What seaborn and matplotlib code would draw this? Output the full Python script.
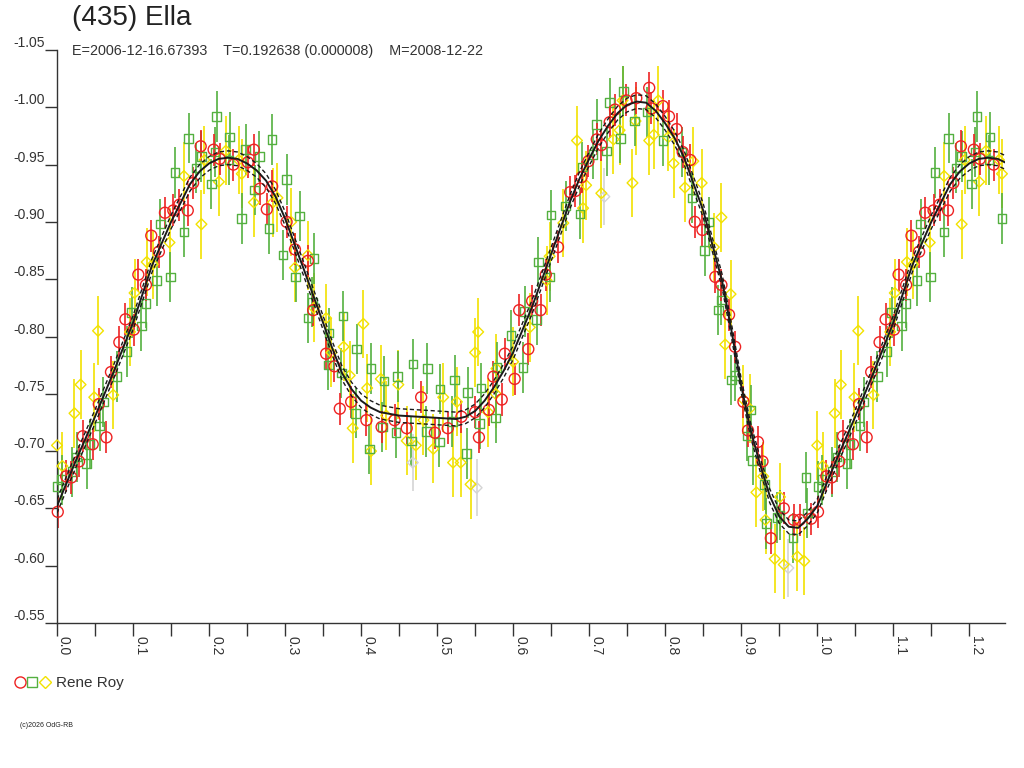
import numpy as np
import pandas as pd
import matplotlib
matplotlib.use("Agg")
import matplotlib.pyplot as plt
from matplotlib.ticker import MultipleLocator
from matplotlib.lines import Line2D
from matplotlib.legend_handler import HandlerTuple
import seaborn as sns

# (435) Ella, composite lightcurve, observer Rene Roy
title = "(435) Ella"
subtitle = "E=2006-12-16.67393    T=0.192638 (0.000008)    M=2008-12-22"
observer = "Rene Roy"
credit = "(c)2026 OdG-RB"

# session 1 (red circles): phase, relative magnitude
red_phase = [0.001, 0.012, 0.019, 0.029, 0.034, 0.047, 0.055, 0.065, 0.071, 0.082,
             0.090, 0.101, 0.107, 0.117, 0.124, 0.134, 0.142, 0.153, 0.161, 0.172,
             0.179, 0.189, 0.206, 0.214, 0.232, 0.251, 0.259, 0.267, 0.276, 0.283,
             0.302, 0.313, 0.330, 0.337, 0.354, 0.365, 0.372, 0.387, 0.407, 0.427,
             0.444, 0.460, 0.479, 0.497, 0.514, 0.532, 0.550, 0.555, 0.568, 0.574,
             0.585, 0.589, 0.602, 0.608, 0.620, 0.625, 0.636, 0.643, 0.659, 0.675,
             0.682, 0.690, 0.699, 0.710, 0.716, 0.727, 0.734, 0.749, 0.762, 0.779,
             0.782, 0.797, 0.805, 0.815, 0.823, 0.833, 0.839, 0.849, 0.866, 0.874,
             0.884, 0.892, 0.903, 0.909, 0.922, 0.928, 0.939, 0.956, 0.969, 0.977,
             0.992]
red_mag = [-0.647, -0.678, -0.677, -0.691, -0.713, -0.706, -0.741, -0.712, -0.769, -0.795,
           -0.815, -0.806, -0.854, -0.845, -0.888, -0.874, -0.908, -0.910, -0.915, -0.910,
           -0.934, -0.966, -0.963, -0.955, -0.950, -0.952, -0.963, -0.929, -0.911, -0.931,
           -0.900, -0.876, -0.866, -0.823, -0.785, -0.774, -0.737, -0.743, -0.727, -0.721,
           -0.727, -0.720, -0.747, -0.716, -0.720, -0.730, -0.734, -0.712, -0.736, -0.765,
           -0.745, -0.785, -0.763, -0.823, -0.789, -0.831, -0.823, -0.854, -0.878, -0.926,
           -0.927, -0.939, -0.953, -0.972, -0.967, -0.987, -0.998, -1.006, -1.008, -1.017,
           -0.999, -1.001, -0.992, -0.981, -0.961, -0.954, -0.900, -0.893, -0.852, -0.845,
           -0.819, -0.791, -0.743, -0.718, -0.708, -0.691, -0.624, -0.650, -0.640, -0.640,
           -0.641]

# session 2 (green squares)
green_phase = [0.001, 0.006, 0.020, 0.026, 0.039, 0.043, 0.056, 0.061, 0.079, 0.092,
               0.098, 0.111, 0.117, 0.131, 0.136, 0.149, 0.155, 0.167, 0.173, 0.183,
               0.190, 0.203, 0.208, 0.210, 0.226, 0.227, 0.243, 0.248, 0.260, 0.266,
               0.279, 0.283, 0.297, 0.302, 0.314, 0.319, 0.330, 0.336, 0.338, 0.357,
               0.358, 0.374, 0.376, 0.393, 0.394, 0.411, 0.413, 0.428, 0.430, 0.446,
               0.448, 0.466, 0.468, 0.486, 0.487, 0.503, 0.504, 0.520, 0.523, 0.539,
               0.540, 0.556, 0.558, 0.577, 0.579, 0.597, 0.613, 0.615, 0.631, 0.633,
               0.648, 0.650, 0.669, 0.688, 0.691, 0.705, 0.710, 0.723, 0.727, 0.741,
               0.745, 0.760, 0.776, 0.797, 0.822, 0.835, 0.852, 0.857, 0.870, 0.874,
               0.887, 0.892, 0.908, 0.913, 0.915, 0.931, 0.933, 0.947, 0.951, 0.968,
               0.985, 0.987]
green_mag = [-0.669, -0.675, -0.682, -0.695, -0.689, -0.706, -0.722, -0.743, -0.765, -0.787,
             -0.821, -0.809, -0.829, -0.849, -0.898, -0.852, -0.943, -0.891, -0.973, -0.947,
             -0.957, -0.933, -0.961, -0.992, -0.954, -0.974, -0.903, -0.963, -0.928, -0.957,
             -0.894, -0.972, -0.871, -0.937, -0.852, -0.905, -0.816, -0.830, -0.868, -0.775,
             -0.803, -0.768, -0.818, -0.733, -0.789, -0.702, -0.772, -0.721, -0.761, -0.716,
             -0.765, -0.709, -0.776, -0.717, -0.772, -0.708, -0.754, -0.726, -0.762, -0.698,
             -0.751, -0.724, -0.755, -0.729, -0.773, -0.801, -0.773, -0.822, -0.815, -0.865,
             -0.852, -0.906, -0.914, -0.907, -0.948, -0.959, -0.985, -0.962, -1.004, -0.973,
             -1.014, -0.988, -0.996, -0.971, -0.961, -0.921, -0.875, -0.900, -0.823, -0.832,
             -0.762, -0.766, -0.713, -0.736, -0.692, -0.671, -0.637, -0.642, -0.644, -0.624,
             -0.677, -0.646]

# session 3 (yellow diamonds)
yellow_phase = [0.000, 0.007, 0.023, 0.031, 0.049, 0.054, 0.074, 0.096, 0.102, 0.118,
                0.126, 0.148, 0.167, 0.190, 0.194, 0.213, 0.222, 0.239, 0.243, 0.259,
                0.284, 0.290, 0.308, 0.313, 0.330, 0.338, 0.354, 0.361, 0.377, 0.385,
                0.389, 0.403, 0.408, 0.413, 0.426, 0.433, 0.449, 0.460, 0.472, 0.482,
                0.495, 0.508, 0.521, 0.526, 0.531, 0.544, 0.550, 0.554, 0.567, 0.577,
                0.578, 0.600, 0.622, 0.644, 0.648, 0.666, 0.684, 0.692, 0.696, 0.716,
                0.732, 0.740, 0.744, 0.757, 0.761, 0.779, 0.785, 0.791, 0.804, 0.811,
                0.826, 0.837, 0.848, 0.864, 0.874, 0.879, 0.886, 0.903, 0.911, 0.920,
                0.929, 0.932, 0.944, 0.951, 0.956, 0.974, 0.983]
yellow_mag = [-0.705, -0.687, -0.733, -0.758, -0.747, -0.805, -0.749, -0.804, -0.838, -0.865,
              -0.863, -0.882, -0.940, -0.898, -0.954, -0.935, -0.962, -0.954, -0.942, -0.917,
              -0.917, -0.921, -0.900, -0.860, -0.871, -0.825, -0.816, -0.786, -0.791, -0.766,
              -0.720, -0.811, -0.755, -0.700, -0.763, -0.731, -0.758, -0.709, -0.705, -0.727,
              -0.702, -0.747, -0.690, -0.743, -0.690, -0.671, -0.786, -0.804, -0.734, -0.750,
              -0.772, -0.778, -0.808, -0.849, -0.870, -0.899, -0.971, -0.912, -0.932, -0.925,
              -0.972, -0.980, -1.006, -0.934, -0.988, -0.971, -0.976, -1.006, -0.974, -0.951,
              -0.930, -0.953, -0.934, -0.878, -0.904, -0.793, -0.837, -0.745, -0.737, -0.664,
              -0.678, -0.640, -0.606, -0.660, -0.601, -0.608, -0.604]

# session 4 (faint grey diamonds)
grey_phase = [0.468, 0.552, 0.720, 0.962]
grey_mag = [-0.690, -0.668, -0.922, -0.598]

# error bar half-lengths per session
red_err = 0.014
green_err = 0.022
yellow_err = 0.030
grey_err = 0.025

# fitted Fourier curve
curve_phase = [0.000, 0.0125, 0.025, 0.050, 0.075, 0.100, 0.125, 0.150, 0.175, 0.1875,
               0.200, 0.2125, 0.225, 0.2375, 0.250, 0.2625, 0.275, 0.2875, 0.300, 0.325,
               0.350, 0.3625, 0.375, 0.3875, 0.400, 0.4125, 0.425, 0.450, 0.475, 0.500,
               0.525, 0.5375, 0.550, 0.5625, 0.575, 0.5875, 0.600, 0.625, 0.650, 0.675,
               0.6875, 0.700, 0.7125, 0.725, 0.7375, 0.750, 0.7625, 0.775, 0.7875, 0.800,
               0.8125, 0.825, 0.850, 0.875, 0.8875, 0.900, 0.9125, 0.925, 0.9375, 0.950,
               0.9625, 0.975, 0.9875]
curve_mag = [-0.652, -0.672, -0.692, -0.730, -0.770, -0.812, -0.862, -0.900, -0.933, -0.944,
             -0.951, -0.955, -0.956, -0.955, -0.951, -0.945, -0.936, -0.922, -0.903, -0.858,
             -0.812, -0.789, -0.768, -0.754, -0.744, -0.738, -0.734, -0.731, -0.730, -0.729,
             -0.728, -0.730, -0.735, -0.744, -0.756, -0.770, -0.786, -0.826, -0.872, -0.918,
             -0.938, -0.955, -0.971, -0.984, -0.995, -1.002, -1.005, -1.004, -0.997, -0.986,
             -0.973, -0.956, -0.910, -0.848, -0.804, -0.757, -0.718, -0.688, -0.661, -0.643,
             -0.634, -0.633, -0.641]
curve_sigma = 0.006

XMAX = 1.247


def wrap(phase, mag, margin=0.0):
    df = pd.DataFrame({"phase": phase, "mag": mag})
    extra = df[df["phase"] + 1 <= XMAX + margin].copy()
    extra["phase"] = extra["phase"] + 1
    return pd.concat([df, extra], ignore_index=True)


sns.set_style("white")
plt.rcParams["font.family"] = ["Liberation Sans", "DejaVu Sans"]
plt.rcParams["axes.unicode_minus"] = False

fig = plt.figure(figsize=(10.24, 7.68), dpi=100)
ax = fig.add_axes([57 / 1024, 1 - 623 / 768, 948 / 1024, 573 / 768])

series = [
    (grey_phase, grey_mag, grey_err, "#d4d4d4", "D", 30),
    (yellow_phase, yellow_mag, yellow_err, "#f2e200", "D", 30),
    (green_phase, green_mag, green_err, "#54b040", "s", 38),
    (red_phase, red_mag, red_err, "#ee2222", "o", 62),
]
for ph, mg, err, col, mk, size in series:
    df = wrap(ph, mg)
    ax.errorbar(df["phase"], df["mag"], yerr=err, fmt="none", ecolor=col,
                elinewidth=1.2, capsize=0, zorder=2)
    sns.scatterplot(data=df, x="phase", y="mag", marker=mk, s=size,
                    facecolor="none", edgecolor=col, linewidth=1.0,
                    ax=ax, zorder=3, clip_on=False)

curve = wrap(curve_phase, curve_mag, margin=0.03)
sns.lineplot(data=curve, x="phase", y="mag", color="#1a1a1a", linewidth=1.4,
             estimator=None, ax=ax, zorder=6)
for sgn in (-1, 1):
    env = curve.assign(mag=curve["mag"] + sgn * curve_sigma)
    sns.lineplot(data=env, x="phase", y="mag", color="#1a1a1a", linewidth=1.0,
                 linestyle=(0, (3, 2)), estimator=None, ax=ax, zorder=6)

ax.set_xlim(0, XMAX)
ax.set_ylim(-0.55, -1.05)
ax.set_xlabel("")
ax.set_ylabel("")

ax.set_xticks(np.round(np.arange(0, 1.21, 0.1), 2))
ax.set_xticklabels([f"{v:.1f}" for v in np.arange(0, 1.21, 0.1)])
ax.xaxis.set_minor_locator(MultipleLocator(0.05))
yt = np.round(np.arange(-1.05, -0.549, 0.05), 2)
ax.set_yticks(yt)
ax.set_yticklabels([f"{v:.2f}" for v in yt])

for side in ("top", "right"):
    ax.spines[side].set_visible(False)
for side in ("left", "bottom"):
    ax.spines[side].set_color("#333333")
    ax.spines[side].set_linewidth(1.0)

ax.tick_params(axis="both", which="both", direction="out", length=9, width=1,
               color="#333333", labelcolor="#333333", labelsize=10)
ax.tick_params(axis="x", which="both", bottom=True, pad=0)
ax.tick_params(axis="y", left=True, pad=0)
plt.setp(ax.get_xticklabels(), rotation=-90, ha="left", va="bottom",
         rotation_mode="anchor")
plt.setp(ax.get_yticklabels(), va="bottom")

fig.text(72 / 1024, 1 - 5 / 768, title, fontsize=20, color="#222222", va="top")
fig.text(72 / 1024, 1 - 55 / 768, subtitle, fontsize=10.4, color="#333333",
         va="baseline")

handles = (
    Line2D([], [], marker="o", ms=8, mfc="none", mec="#ee2222", ls="none", mew=1.0),
    Line2D([], [], marker="s", ms=6.5, mfc="none", mec="#54b040", ls="none", mew=1.0),
    Line2D([], [], marker="D", ms=6, mfc="none", mec="#f2e200", ls="none", mew=1.0),
)
fig.legend(handles=[handles], labels=[observer],
           handler_map={tuple: HandlerTuple(ndivide=None, pad=0.0)},
           loc="center left", bbox_to_anchor=(14 / 1024, 1 - 683 / 768),
           frameon=False, fontsize=11, handlelength=2.4, handletextpad=0.35,
           borderpad=0, borderaxespad=0, labelcolor="#333333")

fig.text(20 / 1024, 1 - 727 / 768, credit, fontsize=5, color="#222222",
         va="baseline")

fig.savefig("out.png", dpi=100)
